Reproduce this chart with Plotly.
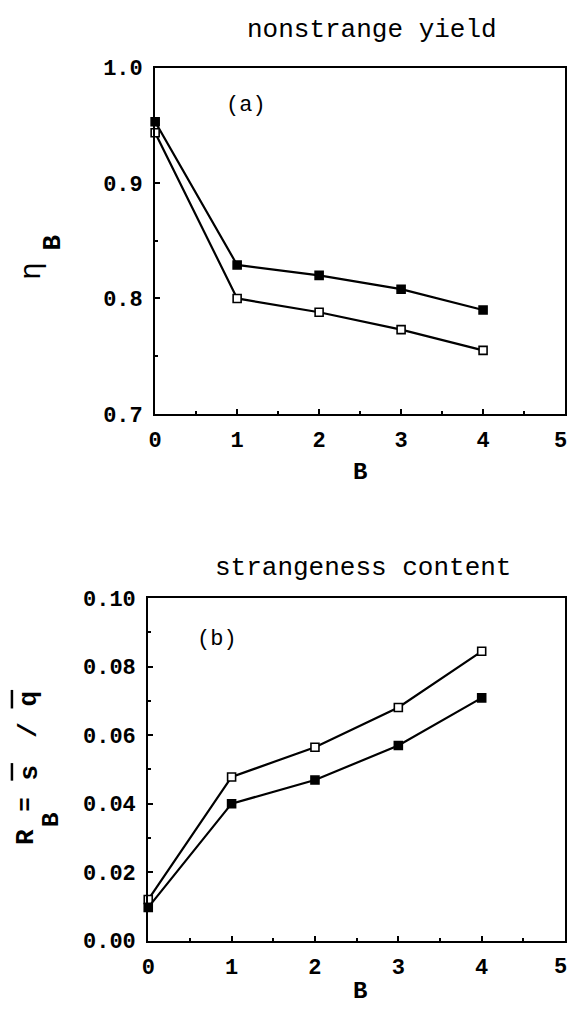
import plotly.graph_objects as go

# Baryon number B on the horizontal axis
B = [0, 1, 2, 3, 4]
B_TICKS = [0, 1, 2, 3, 4, 5]

# (a) nonstrange yield eta_B
eta_filled = [0.953, 0.829, 0.820, 0.808, 0.790]
eta_open = [0.9435, 0.800, 0.788, 0.773, 0.755]

# (b) strangeness content R_B = sbar / qbar
r_open = [0.012, 0.0478, 0.0565, 0.0681, 0.0845]
r_filled = [0.0097, 0.040, 0.0469, 0.057, 0.0709]

W, H = 569, 1021
MONO = "Liberation Mono"


def px(x):
    return x / W


def py(y):
    return 1 - y / H


fig = go.Figure()


def series(xs, ys, filled, axis):
    fig.add_trace(go.Scatter(
        x=xs, y=ys, mode="lines+markers",
        xaxis="x" + axis, yaxis="y" + axis,
        line=dict(color="black", width=2.2),
        marker=dict(symbol="square", size=8,
                    color="black" if filled else "white",
                    line=dict(color="black", width=1.6)),
        cliponaxis=False, showlegend=False, hoverinfo="skip",
    ))


series(B, eta_filled, True, "")
series(B, eta_open, False, "")
series(B, r_open, False, "2")
series(B, r_filled, True, "2")

tickfont = dict(family=MONO, size=22, color="black", weight="bold")
common = dict(
    showline=True, mirror=True, linecolor="black", linewidth=2,
    ticks="inside", ticklen=5, tickwidth=1.5, tickcolor="black",
    showgrid=False, zeroline=False, tickfont=tickfont,
)
minor_x = dict(ticks="inside", ticklen=3, dtick=0.5,
               tickcolor="black", tickwidth=1.5)

# the last label sits at the page edge, so it is written separately below
x_labels = [str(v) if v < B_TICKS[-1] else "" for v in B_TICKS]

fig.update_layout(
    width=W, height=H,
    margin=dict(l=0, r=0, t=0, b=0),
    paper_bgcolor="white", plot_bgcolor="white",
    xaxis=dict(domain=[px(150), px(565)], range=[0, 5],
               tickvals=B_TICKS, ticktext=x_labels,
               anchor="y", ticklabelstandoff=5, minor=minor_x, **common),
    yaxis=dict(domain=[py(414), py(59)], range=[0.7, 1.0], dtick=0.1,
               tickformat=".1f", anchor="x", ticklabelstandoff=6,
               minor=dict(ticks="inside", ticklen=3, dtick=0.05,
                          tickcolor="black", tickwidth=1.5),
               **common),
    xaxis2=dict(domain=[px(143), px(565)], range=[0, 5],
                tickvals=B_TICKS, ticktext=x_labels,
                anchor="y2", ticklabelstandoff=5, minor=minor_x, **common),
    yaxis2=dict(domain=[py(954), py(603)], range=[0, 0.1], dtick=0.02,
                tickformat=".2f", anchor="x2", ticklabelstandoff=6,
                minor=dict(ticks="inside", ticklen=3, dtick=0.01,
                           tickcolor="black", tickwidth=1.5),
                **common),
)


def note(text, x, y, size, bold=False, angle=0, xanchor="center"):
    fig.add_annotation(
        text=text, x=px(x), y=py(y), xref="paper", yref="paper",
        showarrow=False, textangle=angle, xanchor=xanchor, yanchor="middle",
        font=dict(family=MONO, size=size, color="black",
                  weight="bold" if bold else "normal"),
    )


def bar(x, y0, y1):
    # overbar of a rotated symbol in the y-axis title
    fig.add_shape(type="line", xref="paper", yref="paper",
                  x0=px(x), x1=px(x), y0=py(y0), y1=py(y1),
                  line=dict(color="black", width=2.5))


# right-most x tick labels, kept inside the page
note(str(B_TICKS[-1]), W, 442, 22, bold=True, xanchor="right")
note(str(B_TICKS[-1]), W, 982, 22, bold=True, xanchor="right")

# panel titles
note("nonstrange yield", 370, 20, 26)
note("strangeness content", 360, 572, 26)

# panel tags
note("(a)", 242, 98, 22)
note("(b)", 213, 645, 22)

# x-axis titles
note("B", 357, 474, 24, bold=True)
note("B", 357, 1006, 24, bold=True)

# y-axis title (a): eta with bold subscript B
note("η", 26, 268, 30, angle=-90)
note("B", 47, 238, 26, bold=True, angle=-90)

# y-axis title (b): R_B = sbar / qbar
note("R", 19, 848, 26, bold=True, angle=-90)
note("B", 45, 830, 24, bold=True, angle=-90)
note("=", 19, 815, 24, bold=True, angle=-90)
note("s", 23, 782, 26, bold=True, angle=-90)
bar(5, 772, 790)
note("/", 22, 738, 26, bold=True, angle=-90)
note("q", 22, 706, 26, bold=True, angle=-90)
bar(5, 697, 716)

fig.write_html("out.html")
